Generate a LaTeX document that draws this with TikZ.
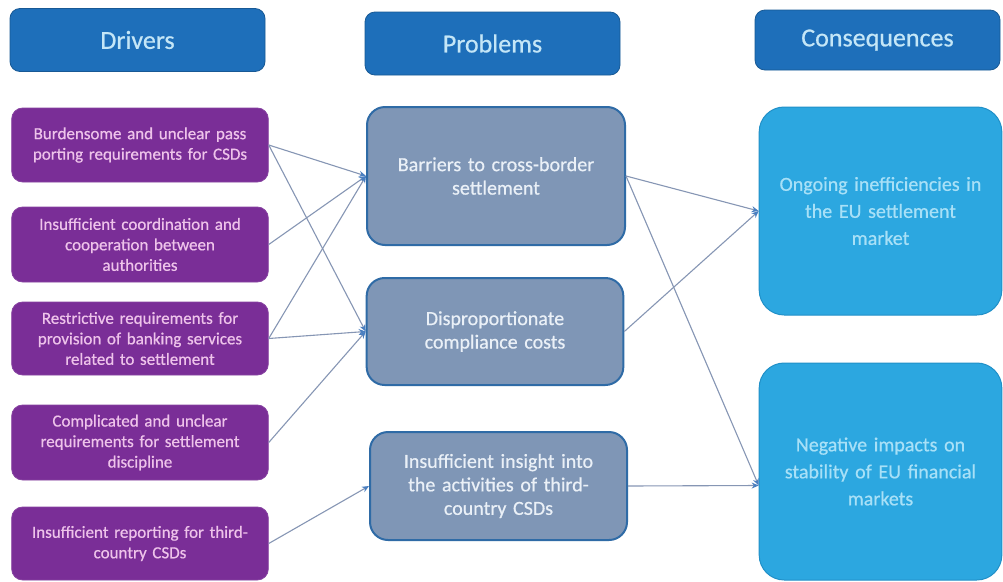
\documentclass[tikz,border=0pt]{standalone}
\usepackage{fontspec}
\setmainfont{Carlito}
\newfontfamily\boxfont{Carlito}[FakeBold=0.6]
\usetikzlibrary{arrows.meta}
\definecolor{hdrfill}{HTML}{1E6FBA}
\definecolor{hdrtext}{HTML}{C4E6F7}
\definecolor{purp}{HTML}{7A2E97}
\definecolor{purptext}{HTML}{EEC3EA}
\definecolor{probfill}{HTML}{7F96B6}
\definecolor{probdraw}{HTML}{2F6BA6}
\definecolor{probtext}{HTML}{EAF0F7}
\definecolor{consfill}{HTML}{2CA7E0}
\definecolor{consdraw}{HTML}{2190C8}
\definecolor{constext}{HTML}{A8E0F7}
\definecolor{linkc}{HTML}{8696B4}
\definecolor{tipc}{HTML}{4A7FC0}
\tikzset{
  hdr/.style={draw=hdrfill!80!black, line width=0.8pt, fill=hdrfill, rounded corners=10pt, text=hdrtext, font=\boxfont\fontsize{26}{30}\selectfont},
  drv/.style={draw=purp!90!white, line width=0.8pt, fill=purp, rounded corners=11pt, text=purptext, align=center, font=\boxfont\fontsize{17}{20.5}\selectfont, minimum width=256pt, text width=250pt},
  prob/.style={draw=probdraw, line width=2pt, fill=probfill, rounded corners=18pt, text=probtext, align=center, font=\boxfont\fontsize{20}{23.5}\selectfont, text width=250pt},
  cons/.style={draw=consdraw, line width=1pt, fill=consfill, rounded corners=25pt, text=constext, align=center, font=\boxfont\fontsize{20}{27}\selectfont, text width=236pt},
  link/.style={draw=linkc, line width=1.1pt, -{Stealth[length=7pt,width=6pt,color=tipc]}},
}
\begin{document}
\begin{tikzpicture}[x=1pt,y=-1pt]
\useasboundingbox[fill=white] (0,0) rectangle (1003,581);
% headers
\node[hdr, minimum width=255pt, minimum height=63pt] (hD) at (137.5,40) {Drivers};
\node[hdr, minimum width=255pt, minimum height=63pt] (hP) at (492.5,43.5) {Problems};
\node[hdr, minimum width=245pt, minimum height=60pt] (hC) at (877.5,40) {Consequences};
% drivers
\node[drv, minimum height=74pt] (D1) at (140,145) {Burdensome and unclear pass\\porting requirements for CSDs};
\node[drv, minimum height=75pt] (D2) at (140,244.5) {Insufficient coordination and\\cooperation between\\authorities};
\node[drv, minimum height=73pt] (D3) at (140,338.5) {Restrictive requirements for\\provision of banking services\\related to settlement};
\node[drv, minimum height=75pt] (D4) at (140,442.5) {Complicated and unclear\\requirements for settlement\\discipline};
\node[drv, minimum height=73pt] (D5) at (140,543.5) {Insufficient reporting for third-\\country CSDs};
% problems
\node[prob, minimum width=258pt, minimum height=138pt] (P1) at (496,176) {Barriers to cross-border\\settlement};
\node[prob, minimum width=256pt, minimum height=107pt] (P2) at (495,331.5) {Disproportionate\\compliance costs};
\node[prob, minimum width=257pt, minimum height=108pt] (P3) at (498.5,486) {Insufficient insight into\\the activities of third-\\country CSDs};
% consequences
\node[cons, minimum width=241pt, minimum height=208pt] (C1) at (880.5,211) {Ongoing inefficiencies in\\the EU settlement\\market};
\node[cons, minimum width=241pt, minimum height=217pt] (C2) at (880.5,471.5) {Negative impacts on\\stability of EU financial\\markets};
% links
\draw[link] (D1.east) -- (P1.west);
\draw[link] (D1.east) -- (P2.west);
\draw[link] (D2.east) -- (P1.west);
\draw[link] (D3.east) -- (P1.west);
\draw[link] (D3.east) -- (P2.west);
\draw[link] (D4.east) -- (P2.west);
\draw[link] (D5.east) -- (P3.west);
\draw[link] (P1.east) -- (C1.west);
\draw[link] (P1.east) -- ([yshift=-14pt]C2.west);
\draw[link] (P2.east) -- (C1.west);
\draw[link] (P3.east) -- ([yshift=-14pt]C2.west);
\end{tikzpicture}
\end{document}
